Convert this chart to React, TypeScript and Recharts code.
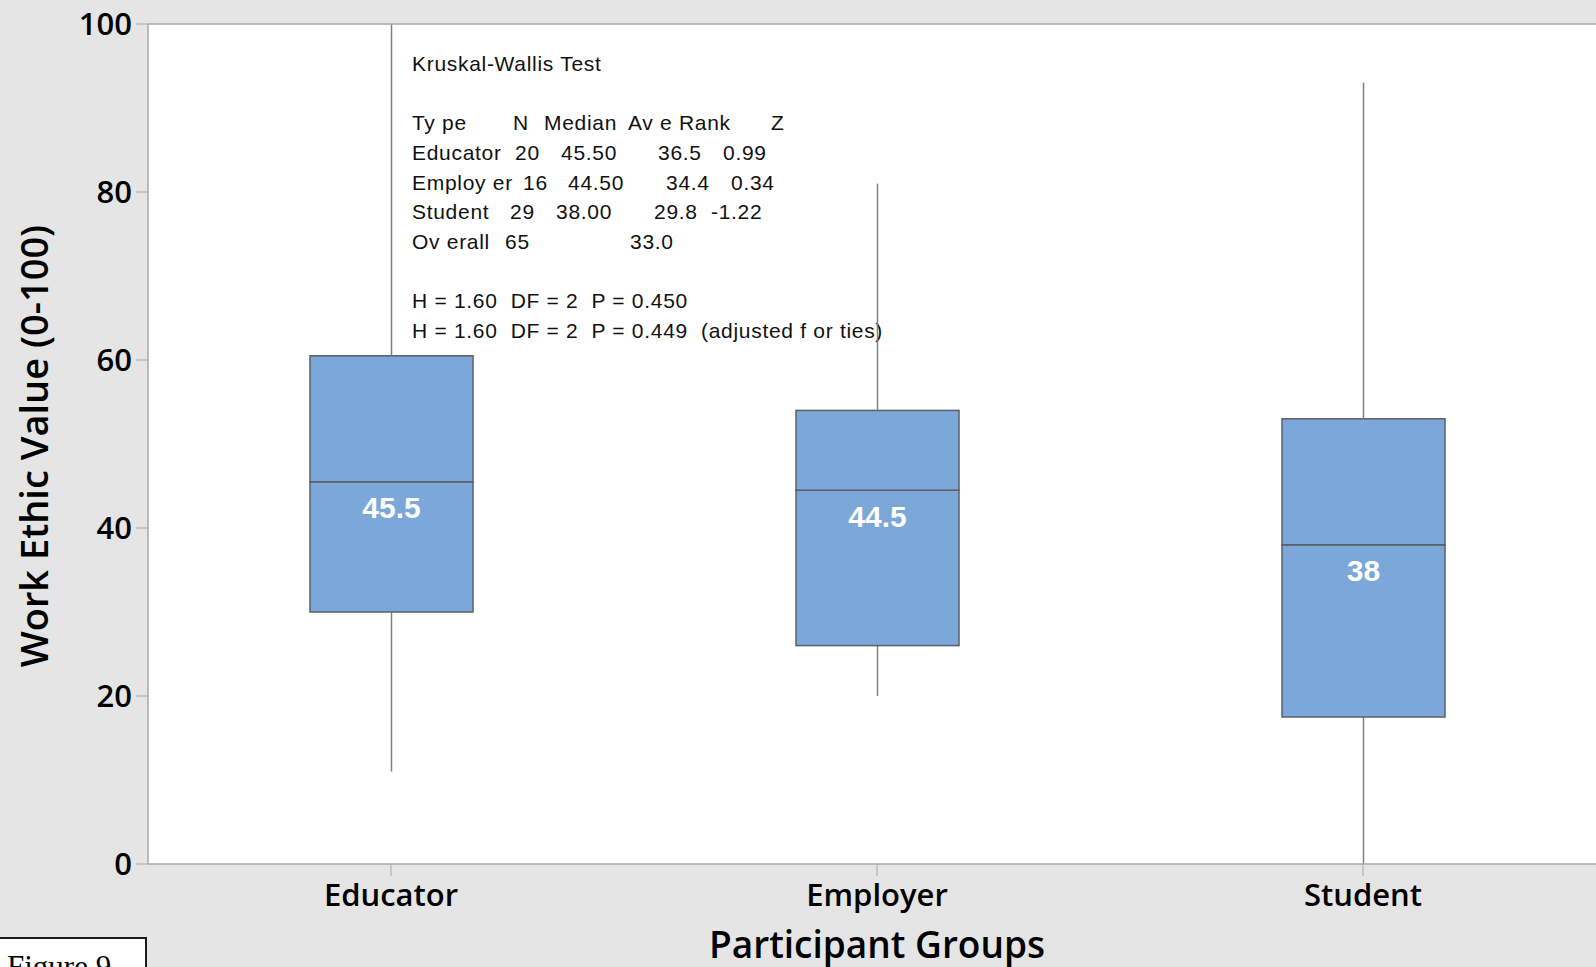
import React from 'react';
import {
  ComposedChart,
  Bar,
  XAxis,
  YAxis,
  CartesianGrid,
  ReferenceLine,
  Customized,
} from 'recharts';

// Five-number summaries per participant group
const categories = ['Educator', 'Employer', 'Student'];
const whiskerLow = [11, 20, 0];
const quartile1 = [30, 26, 17.5];
const medians = [45.5, 44.5, 38];
const quartile3 = [60.5, 54, 53];
const whiskerHigh = [100, 81, 93];
const yTicks = [0, 20, 40, 60, 80, 100];

// Kruskal-Wallis summary table
const kwTitle = 'Kruskal-Wallis Test';
const kwHeader = ['Ty pe', 'N', 'Median', 'Av e Rank', 'Z'];
const kwRows = [
  ['Educator', '20', '45.50', '36.5', '0.99'],
  ['Employ er', '16', '44.50', '34.4', '0.34'],
  ['Student', '29', '38.00', '29.8', '-1.22'],
  ['Ov erall', '65', '', '33.0', ''],
];
const kwStats = [
  'H = 1.60  DF = 2  P = 0.450',
  'H = 1.60  DF = 2  P = 0.449  (adjusted f or ties)',
];

// Stacked segments: hidden base, lower whisker, lower box half, upper box half, upper whisker
const boxData = categories.map((name, i) => ({
  name,
  base: whiskerLow[i],
  lowWhisker: quartile1[i] - whiskerLow[i],
  lowerBox: medians[i] - quartile1[i],
  upperBox: quartile3[i] - medians[i],
  highWhisker: whiskerHigh[i] - quartile3[i],
  median: medians[i],
}));

const BOX_FILL = '#7ba7d9';
const BOX_STROKE = '#5b6068';
const WHISKER = '#808080';
const AXIS = '#a8a8a8';
const HEAD_FONT = '"Open Sans", "Noto Sans", sans-serif';
const TABLE_FONT = '"Liberation Sans", Arial, sans-serif';

const Whisker = (props: any) => {
  const { x, y, width, height } = props;
  const cx = x + width / 2;
  return <line x1={cx} x2={cx} y1={y} y2={y + height} stroke={WHISKER} strokeWidth={1.5} />;
};

const UpperBox = (props: any) => {
  const { x, y, width, height } = props;
  return <rect x={x} y={y} width={width} height={height} fill={BOX_FILL} stroke={BOX_STROKE} strokeWidth={1.5} />;
};

const LowerBox = (props: any) => {
  const { x, y, width, height, payload } = props;
  return (
    <g>
      <rect x={x} y={y} width={width} height={height} fill={BOX_FILL} stroke={BOX_STROKE} strokeWidth={1.5} />
      <text
        x={x + width / 2}
        y={y + 26}
        textAnchor="middle"
        dominantBaseline="central"
        fill="#ffffff"
        fontFamily={TABLE_FONT}
        fontWeight={700}
        fontSize={30}
      >
        {String(payload.median)}
      </text>
    </g>
  );
};

const headerCols = [412, 513, 544, 628, 771];
const rowCols = [
  [412, 515, 561, 658, 723],
  [412, 523, 568, 666, 731],
  [412, 510, 556, 654, 711],
  [412, 505, 0, 630, 0],
];

const Annotations = () => {
  const textStyle: React.CSSProperties = { whiteSpace: 'pre', letterSpacing: '0.7px' };
  return (
    <g fontFamily={TABLE_FONT} fontSize={21} fill="#111111">
      <text x={412} y={71} style={textStyle}>{kwTitle}</text>
      {kwHeader.map((h, j) => (
        <text key={`h${j}`} x={headerCols[j]} y={130} style={textStyle}>{h}</text>
      ))}
      {kwRows.map((row, i) =>
        row.map((cell, j) =>
          cell ? (
            <text key={`r${i}c${j}`} x={rowCols[i][j]} y={160 + i * 29.5} style={textStyle}>
              {cell}
            </text>
          ) : null
        )
      )}
      {kwStats.map((s, i) => (
        <text key={`s${i}`} x={412} y={308 + i * 29.5} style={textStyle}>{s}</text>
      ))}
      <text
        x={33}
        y={446}
        transform="rotate(-90 33 446)"
        textAnchor="middle"
        dominantBaseline="central"
        fontFamily={HEAD_FONT}
        fontWeight={600}
        fontSize={38}
        fill="#000"
      >
        Work Ethic Value (0-100)
      </text>
      <text
        x={877}
        y={958}
        textAnchor="middle"
        fontFamily={HEAD_FONT}
        fontWeight={600}
        fontSize={37}
        fill="#000"
      >
        Participant Groups
      </text>
    </g>
  );
};

export default function App() {
  return (
    <div
      style={{
        position: 'fixed',
        left: 0,
        top: 0,
        width: 1596,
        height: 967,
        overflow: 'hidden',
        background: '#e5e5e5',
      }}
    >
      <ComposedChart
        width={1620}
        height={967}
        data={boxData}
        margin={{ top: 24, right: 14, bottom: 0, left: 0 }}
        barCategoryGap={0}
      >
        <CartesianGrid fill="#ffffff" horizontal={false} vertical={false} />
        <XAxis
          dataKey="name"
          height={103}
          tickSize={12}
          tickMargin={8}
          axisLine={{ stroke: AXIS, strokeWidth: 1.5 }}
          tickLine={{ stroke: AXIS }}
          tick={{ fontFamily: HEAD_FONT, fontWeight: 600, fontSize: 31, fill: '#000' }}
        />
        <YAxis
          width={148}
          domain={[0, 100]}
          ticks={yTicks}
          allowDataOverflow
          tickSize={12}
          tickMargin={4}
          axisLine={{ stroke: AXIS, strokeWidth: 1.5 }}
          tickLine={{ stroke: AXIS }}
          tick={{ fontFamily: HEAD_FONT, fontWeight: 600, fontSize: 31, fill: '#000' }}
        />
        <ReferenceLine y={100} stroke={AXIS} strokeWidth={1.5} />
        <Bar dataKey="base" stackId="box" fill="transparent" barSize={163} isAnimationActive={false} />
        <Bar dataKey="lowWhisker" stackId="box" shape={Whisker} barSize={163} isAnimationActive={false} />
        <Bar dataKey="lowerBox" stackId="box" shape={LowerBox} barSize={163} isAnimationActive={false} />
        <Bar dataKey="upperBox" stackId="box" shape={UpperBox} barSize={163} isAnimationActive={false} />
        <Bar dataKey="highWhisker" stackId="box" shape={Whisker} barSize={163} isAnimationActive={false} />
        <Customized component={Annotations} />
      </ComposedChart>
      <div
        style={{
          position: 'absolute',
          left: -4,
          top: 937,
          width: 151,
          height: 60,
          background: '#ffffff',
          border: '2px solid #1a1a1a',
          boxSizing: 'border-box',
          fontFamily: '"Liberation Serif", "Times New Roman", serif',
          fontSize: 31,
          lineHeight: '31px',
          paddingLeft: 9,
          paddingTop: 12,
          color: '#000',
        }}
      >
        Figure 9
      </div>
    </div>
  );
}
